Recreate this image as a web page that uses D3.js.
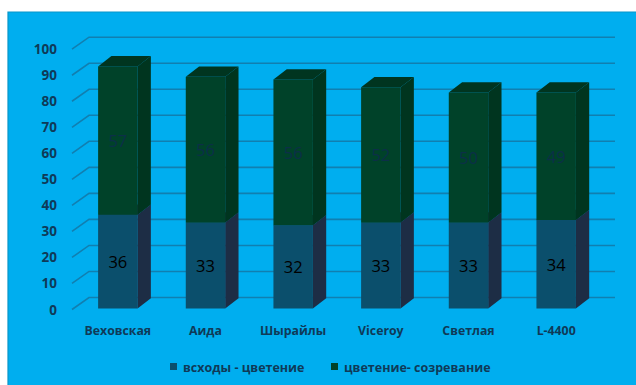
<!DOCTYPE html>
<html>
<head>
<meta charset="utf-8">
<script src="https://cdn.jsdelivr.net/npm/d3@7"></script>
<style>
  html, body { margin: 0; padding: 0; background: #ffffff; }
  svg { display: block; }
</style>
</head>
<body>
<svg id="chart" width="636" height="385"></svg>
<script>
const categories = ["Веховская", "Аида", "Шырайлы", "Viceroy", "Светлая", "L-4400"];
const seriesNames = ["всходы - цветение", "цветение- созревание"];
const emergenceToFlowering = [36, 33, 32, 33, 33, 34];
const floweringToRipening = [57, 56, 56, 52, 50, 49];
const yTicks = [0, 10, 20, 30, 40, 50, 60, 70, 80, 90, 100];

const svg = d3.select("#chart");
const W = 636, H = 385;

// background panel
svg.append("rect").attr("x", 8).attr("y", 12).attr("width", W - 8).attr("height", H - 12)
  .attr("fill", "#00aeef");
svg.append("path").attr("d", `M8,${H} L8,12 L${W},12`).attr("fill", "none")
  .attr("stroke", "#0896c9").attr("stroke-width", 1.2);

const y = d3.scaleLinear().domain([0, 100]).range([308.5, 48.2]);
const x = d3.scaleBand().domain(categories).range([74, 600])
  .paddingInner(0.55).paddingOuter(0.275);

const wallDx = 17, wallDy = -12;
const barDx = 13.3, barDy = -10.3;
const xLeft = 72, xRightBack = 615;

// gridlines (back wall + left diagonal)
const grid = svg.append("g");
yTicks.forEach(t => {
  const yf = y(t) + 1;
  grid.append("path")
    .attr("d", `M${xLeft},${yf} L${xLeft + wallDx},${yf + wallDy} L${xRightBack},${yf + wallDy}`)
    .attr("fill", "none").attr("stroke", "#117fb0").attr("stroke-width", 1.6);
});

// y tick labels
svg.append("g").selectAll("text").data(yTicks).join("text")
  .attr("x", 57).attr("y", d => y(d) + 1)
  .attr("text-anchor", "end").attr("dominant-baseline", "central")
  .attr("font-family", "'Open Sans', 'DejaVu Sans', sans-serif")
  .attr("font-weight", "bold").attr("font-size", 13.5)
  .attr("fill", "#0f3a58")
  .text(d => d);

// stacked data
const rows = categories.map((c, i) => ({
  cat: c,
  segs: [
    { v0: 0, v1: emergenceToFlowering[i], val: emergenceToFlowering[i], s: 0 },
    { v0: emergenceToFlowering[i], v1: emergenceToFlowering[i] + floweringToRipening[i], val: floweringToRipening[i], s: 1 }
  ]
}));

const colors = [
  { front: "#0b4f6c", side: "#1d2d45", top: "#173b55", label: "#000000" },
  { front: "#004229", side: "#00351f", top: "#003520", label: "#0c2f48" }
];

const bars = svg.append("g");
rows.forEach(r => {
  const x0 = x(r.cat), bw = x.bandwidth();
  r.segs.forEach(sg => {
    const yb = y(sg.v0), yt = y(sg.v1);
    const c = colors[sg.s];
    bars.append("rect").attr("x", x0).attr("y", yt).attr("width", bw).attr("height", yb - yt)
      .attr("fill", c.front);
    bars.append("path")
      .attr("d", `M${x0 + bw},${yb} L${x0 + bw + barDx},${yb + barDy} L${x0 + bw + barDx},${yt + barDy} L${x0 + bw},${yt} Z`)
      .attr("fill", c.side);
    bars.append("path")
      .attr("d", `M${x0},${yt} L${x0 + barDx},${yt + barDy} L${x0 + bw + barDx},${yt + barDy} L${x0 + bw},${yt} Z`)
      .attr("fill", c.top);
  });
});

// value labels
rows.forEach(r => {
  const cx = x(r.cat) + x.bandwidth() / 2;
  r.segs.forEach(sg => {
    svg.append("text")
      .attr("x", cx).attr("y", (y(sg.v0) + y(sg.v1)) / 2)
      .attr("text-anchor", "middle").attr("dominant-baseline", "central")
      .attr("font-family", "'Open Sans', 'Liberation Sans', sans-serif")
      .attr("font-size", 16.5)
      .attr("fill", colors[sg.s].label)
      .text(sg.val);
  });
});

// category labels
svg.append("g").selectAll("text").data(categories).join("text")
  .attr("x", d => x(d) + x.bandwidth() / 2).attr("y", 330)
  .attr("text-anchor", "middle").attr("dominant-baseline", "central")
  .attr("font-family", "'Open Sans', 'DejaVu Sans', sans-serif")
  .attr("font-weight", "bold").attr("font-size", 12.3)
  .attr("fill", "#0f3a58")
  .text(d => d);

// legend
const legendX = [170, 331];
seriesNames.forEach((n, i) => {
  const g = svg.append("g").attr("transform", `translate(${legendX[i]},367)`);
  g.append("rect").attr("x", 0).attr("y", -4).attr("width", 7).attr("height", 7)
    .attr("fill", colors[i].front);
  g.append("text").attr("x", 13).attr("y", 0)
    .attr("dominant-baseline", "central")
    .attr("font-family", "'Open Sans', 'DejaVu Sans', sans-serif")
    .attr("font-weight", "bold").attr("font-size", 12.5)
    .attr("fill", "#0f3a58")
    .text(n);
});
</script>
</body>
</html>
